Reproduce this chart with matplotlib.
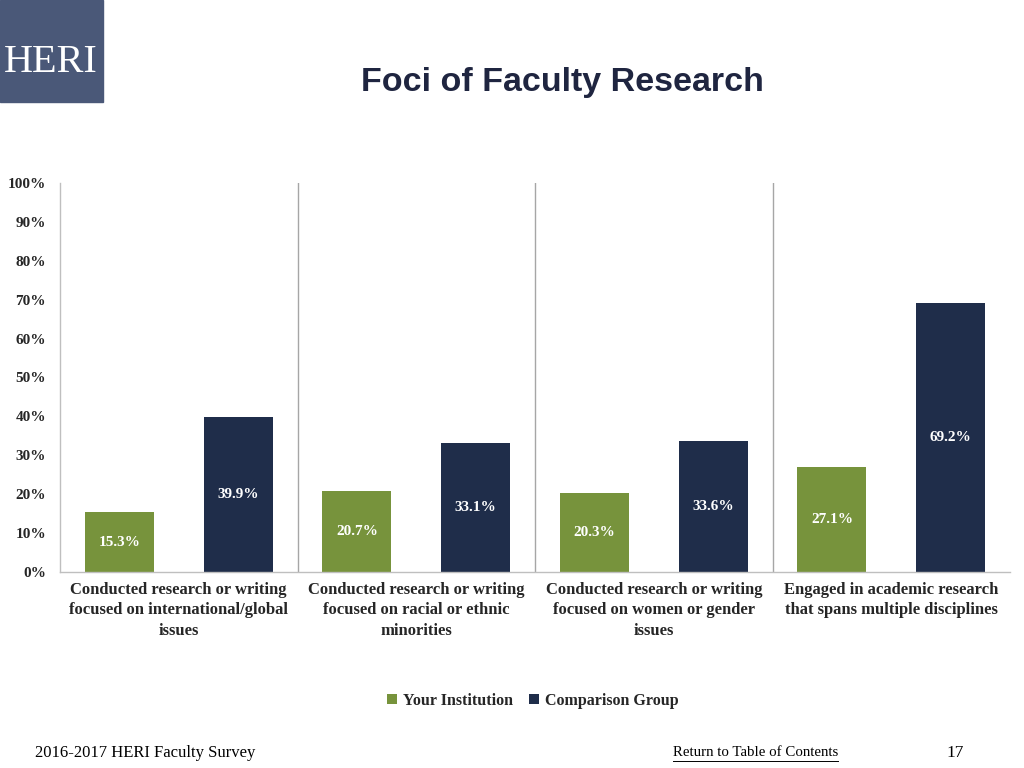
import matplotlib
matplotlib.use("Agg")
import matplotlib.pyplot as plt
import numpy as np
from matplotlib.patches import Rectangle

categories = [
    "Conducted research or writing\nfocused on international/global\nissues",
    "Conducted research or writing\nfocused on racial or ethnic\nminorities",
    "Conducted research or writing\nfocused on women or gender\nissues",
    "Engaged in academic research\nthat spans multiple disciplines",
]
your_institution = [15.3, 20.7, 20.3, 27.1]
comparison_group = [39.9, 33.1, 33.6, 69.2]
series_names = ["Your Institution", "Comparison Group"]
yticks = [0, 10, 20, 30, 40, 50, 60, 70, 80, 90, 100]

GREEN = "#77933c"
NAVY = "#1f2d4a"
TEXT = "#262626"
serif = ["Liberation Serif", "DejaVu Serif"]

fig = plt.figure(figsize=(10.24, 7.68), dpi=100)
ax = fig.add_axes([60/1024, 1-572/768, 950/1024, (572-183)/768])

x = np.arange(len(categories))
w = 0.29
off = 0.25
b1 = ax.bar(x - off, your_institution, w, color=GREEN, label=series_names[0])
b2 = ax.bar(x + off, comparison_group, w, color=NAVY, label=series_names[1])

for bars, vals in ((b1, your_institution), (b2, comparison_group)):
    for r, v in zip(bars, vals):
        ax.text(r.get_x() + r.get_width()/2, v/2, f"{v:.1f}%", ha="center", va="center",
                color="white", fontsize=11, fontweight="bold", family=serif)

ax.set_xlim(-0.5, len(categories) - 0.5)
ax.set_ylim(0, 100)
ax.set_yticks(yticks)
ax.set_yticklabels([f"{t}%" for t in yticks], fontsize=11, fontweight="bold",
                   family=serif, color=TEXT)
ax.set_xticks(x)
ax.set_xticklabels(categories, fontsize=12, fontweight="bold", family=serif,
                   color=TEXT, linespacing=1.38)
ax.tick_params(axis="both", length=0)
ax.tick_params(axis="y", pad=10)
ax.tick_params(axis="x", pad=7)
for i in range(1, len(categories)):
    ax.axvline(i - 0.5, color="#a6a6a6", lw=1)
for s in ("top", "right"):
    ax.spines[s].set_visible(False)
for s in ("left", "bottom"):
    ax.spines[s].set_color("#bfbfbf")
    ax.spines[s].set_linewidth(1)

leg = fig.legend(handles=[b1, b2], labels=series_names, loc="center", bbox_to_anchor=(533/1024, 1-701/768),
                 ncol=2, frameon=False, prop={"family": serif, "weight": "bold", "size": 11.5},
                 handlelength=0.6, handleheight=0.6, handletextpad=0.4, columnspacing=1.0)
for t in leg.get_texts():
    t.set_color(TEXT)

# Title
fig.text(562/1024, 1-82/768, "Foci of Faculty Research", ha="center", va="center",
         fontsize=24.5, fontweight="bold", family=["Liberation Sans", "DejaVu Sans"], color="#1f2540")

# Logo
fig.patches.append(Rectangle((0, 1-102/768), 103/1024, 102/768, transform=fig.transFigure,
                             color="#4a5878", zorder=0))
fig.text(51/1024, 1-63/768, "HERI", ha="center", va="center", fontsize=29, color="white",
         family=serif)

# Footer
fig.text(35/1024, 1-753/768, "2016-2017 HERI Faculty Survey", ha="left", va="center",
         fontsize=12, family=serif, color="#000000")
fig.text(673/1024, 1-753/768, "Return to Table of Contents", ha="left", va="center",
         fontsize=10.7, family=serif, color="#000000")
fig.add_artist(plt.Line2D([673/1024, 838/1024], [1-761/768, 1-761/768], color="black", lw=0.7,
                          transform=fig.transFigure))
fig.text(955/1024, 1-753/768, "17", ha="center", va="center", fontsize=12.5, family=serif,
         color="#000000")

fig.savefig("out.png", dpi=100)
